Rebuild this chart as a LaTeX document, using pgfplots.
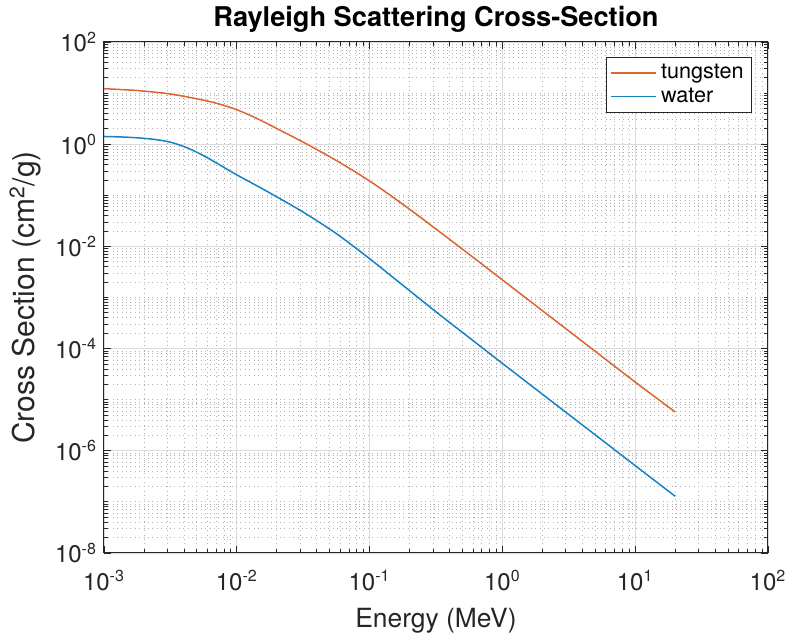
\documentclass[border=0pt]{standalone}
\usepackage{fontspec}
\setmainfont{TeX Gyre Heros}
\usepackage{pgfplots}
\pgfplotsset{compat=1.18}
\definecolor{mlorange}{HTML}{D95319}
\definecolor{mlblue}{HTML}{0072BD}
\definecolor{axgray}{HTML}{262626}

\begin{document}
\begin{tikzpicture}
\begin{axis}[
  scale only axis,
  width=332pt, height=255.5pt,
  xmode=log, ymode=log,
  xmin=1e-3, xmax=1e2, ymin=1e-8, ymax=1e2,
  xtick={1e-3,1e-2,1e-1,1,10,100},
  xticklabels={10\textsuperscript{-3},10\textsuperscript{-2},10\textsuperscript{-1},10\textsuperscript{0},10\textsuperscript{1},10\textsuperscript{2}},
  ytick={1e-8,1e-6,1e-4,1e-2,1,100},
  yticklabels={10\textsuperscript{-8},10\textsuperscript{-6},10\textsuperscript{-4},10\textsuperscript{-2},10\textsuperscript{0},10\textsuperscript{2}},
  minor xtick={2e-3,3e-3,4e-3,5e-3,6e-3,7e-3,8e-3,9e-3,
    2e-2,3e-2,4e-2,5e-2,6e-2,7e-2,8e-2,9e-2,
    0.2,0.3,0.4,0.5,0.6,0.7,0.8,0.9,
    2,3,4,5,6,7,8,9,
    20,30,40,50,60,70,80,90},
  minor ytick={2e-8,3e-8,4e-8,5e-8,6e-8,7e-8,8e-8,9e-8,1e-7,
    2e-7,3e-7,4e-7,5e-7,6e-7,7e-7,8e-7,9e-7,
    2e-6,3e-6,4e-6,5e-6,6e-6,7e-6,8e-6,9e-6,1e-5,
    2e-5,3e-5,4e-5,5e-5,6e-5,7e-5,8e-5,9e-5,
    2e-4,3e-4,4e-4,5e-4,6e-4,7e-4,8e-4,9e-4,1e-3,
    2e-3,3e-3,4e-3,5e-3,6e-3,7e-3,8e-3,9e-3,
    2e-2,3e-2,4e-2,5e-2,6e-2,7e-2,8e-2,9e-2,1e-1,
    0.2,0.3,0.4,0.5,0.6,0.7,0.8,0.9,
    2,3,4,5,6,7,8,9,10,
    20,30,40,50,60,70,80,90},
  tick align=inside,
  major tick length=3.3pt, minor tick length=1.8pt,
  xmajorgrids, ymajorgrids, xminorgrids, yminorgrids,
  major grid style={draw=black!14, line width=0.4pt},
  minor grid style={draw=black!30, line width=0.4pt, dash pattern=on 0.4pt off 1.8pt},
  axis line style={draw=axgray, line width=0.5pt},
  tick style={draw=axgray, line width=0.4pt},
  tick label style={font=\fontsize{12}{14}\selectfont, text=axgray},
  xticklabel style={yshift=-5pt},
  xlabel style={font=\fontsize{13.2}{15}\selectfont, text=axgray, yshift=-2pt},
  ylabel style={font=\fontsize{15}{17}\selectfont, text=axgray},
  title style={font=\fontsize{13.6}{15}\selectfont\bfseries, yshift=-5pt},
  title={Rayleigh Scattering Cross-Section},
  xlabel={Energy (MeV)},
  ylabel={Cross Section (cm\textsuperscript{2}/g)},
  legend style={at={(0.976,0.971)}, anchor=north east, draw=axgray,
    line width=0.5pt, font=\fontsize{10.8}{12}\selectfont,
    inner xsep=2pt, inner ysep=1.5pt, row sep=-1pt, cells={anchor=west}},
  legend image code/.code={\draw[#1] (0pt,0pt) -- (22.5pt,0pt);},
]
% tungsten
\addplot[color=mlorange!90!white, line width=0.75pt, smooth] coordinates {
(0.001, 12.19)
(0.001778, 11.22)
(0.003162, 9.594)
(0.005623, 7.278)
(0.007499, 6.026)
(0.01, 4.732)
(0.01334, 3.428)
(0.01778, 2.371)
(0.03162, 1.096)
(0.05623, 0.4786)
(0.1, 0.1905)
(0.1778, 0.06683)
(0.3162, 0.02188)
(0.5623, 6.998e-3)
(1, 2.213e-3)
(1.778, 6.998e-4)
(3.162, 2.213e-4)
(5.623, 6.998e-5)
(10, 2.213e-5)
(20, 5.754e-6)
};
\addlegendentry{tungsten}
% water
\addplot[color=mlblue!90!white, line width=0.75pt, smooth] coordinates {
(0.001, 1.416)
(0.001334, 1.387)
(0.001778, 1.334)
(0.002371, 1.245)
(0.003162, 1.096)
(0.004217, 0.8511)
(0.005623, 0.5957)
(0.007499, 0.3890)
(0.01, 0.2512)
(0.01778, 0.1109)
(0.03162, 0.04677)
(0.05623, 0.01778)
(0.1, 5.754e-3)
(0.1778, 1.738e-3)
(0.3162, 5.248e-4)
(0.5623, 1.641e-4)
(1, 5.129e-5)
(1.778, 1.622e-5)
(3.162, 5.129e-6)
(5.623, 1.622e-6)
(10, 5.129e-7)
(20, 1.288e-7)
};
\addlegendentry{water}
\end{axis}
\pgfresetboundingbox
\path (-52pt,-41.5pt) rectangle (342.5pt,276.5pt);
\end{tikzpicture}
\end{document}
